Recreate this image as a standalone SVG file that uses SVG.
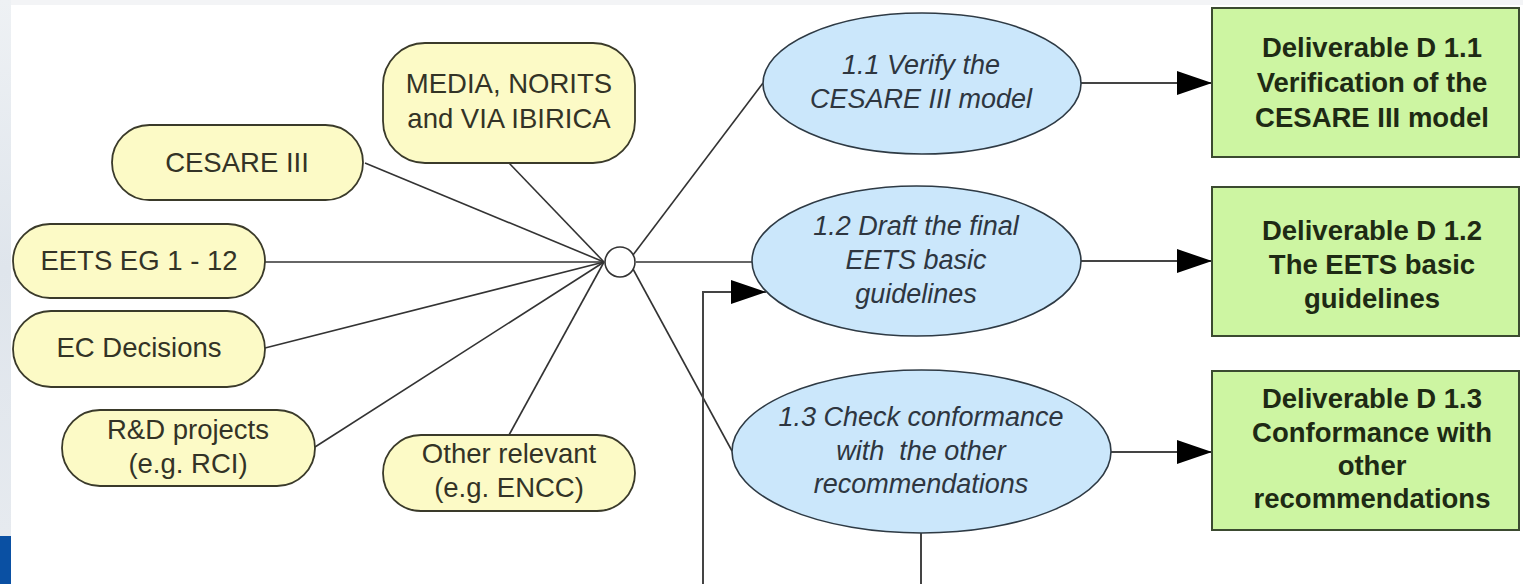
<svg xmlns="http://www.w3.org/2000/svg" width="1523" height="584" viewBox="0 0 1523 584">
<style>
.pill{fill:#fcfac6;stroke:#3a3a2a;stroke-width:1.8}
.ell{fill:#cbe7fb;stroke:#2e3a44;stroke-width:1.6}
.box{fill:#cdf5a2;stroke:#3b4a30;stroke-width:2}
.t{font-family:"Liberation Sans",Arial,sans-serif;font-size:27.5px;text-anchor:middle;fill:#333326}
.ti{font-family:"Liberation Sans",Arial,sans-serif;font-size:27px;font-style:italic;text-anchor:middle;fill:#2e3640}
.tb{font-family:"Liberation Sans",Arial,sans-serif;font-size:27.5px;font-weight:bold;text-anchor:middle;fill:#1e2a14}
.ln{fill:none;stroke:#333;stroke-width:1.6}
.ar{fill:none;stroke:#444;stroke-width:2;marker-end:url(#ah)}
</style>
<defs>
<marker id="ah" markerUnits="userSpaceOnUse" markerWidth="36" markerHeight="24" refX="35" refY="12" orient="auto">
<path d="M0,0 L35,12 L0,24 Z" fill="#000"/>
</marker>
<linearGradient id="side" x1="0" y1="0" x2="0" y2="1">
<stop offset="0" stop-color="#eef1f4"/>
<stop offset="0.5" stop-color="#dfe5ec"/>
<stop offset="1" stop-color="#e6eaef"/>
</linearGradient>
</defs>
<rect x="0" y="0" width="1523" height="584" fill="#ffffff"/>
<rect x="0" y="0" width="1523" height="5" fill="#f3f4f6"/>
<rect x="0" y="0" width="11" height="536" fill="url(#side)"/>
<rect x="0" y="536" width="11" height="48" fill="#0a50a3"/>

<g id="connectors">
<line class="ln" x1="365" y1="163" x2="604" y2="262"/>
<line class="ln" x1="265" y1="262" x2="604" y2="262"/>
<line class="ln" x1="265" y1="348" x2="604" y2="262"/>
<line class="ln" x1="315" y1="447" x2="604" y2="262"/>
<line class="ln" x1="509" y1="163" x2="604" y2="262"/>
<line class="ln" x1="509" y1="435" x2="604" y2="262"/>
<line class="ln" x1="633" y1="255" x2="763" y2="83"/>
<line class="ln" x1="636" y1="262" x2="752" y2="262"/>
<line class="ln" x1="633" y1="269" x2="732" y2="451"/>
<line class="ar" x1="1081" y1="83" x2="1212" y2="83"/>
<line class="ar" x1="1081" y1="261" x2="1212" y2="261"/>
<line class="ar" x1="1111" y1="452" x2="1212" y2="452"/>
<path class="ar" d="M921,533 V600 H703 V292 H766"/>
</g>

<g id="hub"><circle cx="620" cy="262" r="15" fill="#fff" stroke="#333" stroke-width="1.6"/></g>

<g id="n-cesare"><rect class="pill" x="112" y="125" width="251" height="75" rx="37.5"/><text class="t" x="237" y="172">CESARE III</text></g>
<g id="n-eets"><rect class="pill" x="13" y="224" width="252" height="74" rx="37"/><text class="t" x="139" y="270">EETS EG 1 - 12</text></g>
<g id="n-ec"><rect class="pill" x="13" y="311" width="252" height="76" rx="38"/><text class="t" x="139" y="357">EC Decisions</text></g>
<g id="n-rd"><rect class="pill" x="62" y="410" width="253" height="76" rx="38"/><text class="t" x="188" y="439">R&amp;D projects</text><text class="t" x="188" y="473">(e.g. RCI)</text></g>
<g id="n-media"><rect class="pill" x="383" y="43" width="252" height="120" rx="42"/><text class="t" x="509" y="93">MEDIA, NORITS</text><text class="t" x="509" y="128">and VIA IBIRICA</text></g>
<g id="n-other"><rect class="pill" x="383" y="435" width="252" height="76" rx="38"/><text class="t" x="509" y="463">Other relevant</text><text class="t" x="509" y="497">(e.g. ENCC)</text></g>

<g id="t11"><ellipse class="ell" cx="922" cy="83.5" rx="159" ry="70.5"/><text class="ti" x="921" y="74">1.1 Verify the</text><text class="ti" x="921" y="108">CESARE III model</text></g>
<g id="t12"><ellipse class="ell" cx="916.5" cy="261" rx="164.5" ry="75"/><text class="ti" x="916" y="235">1.2 Draft the final</text><text class="ti" x="916" y="269">EETS basic</text><text class="ti" x="916" y="303">guidelines</text></g>
<g id="t13"><ellipse class="ell" cx="921.5" cy="451.5" rx="189.5" ry="81.5"/><text class="ti" x="921" y="426">1.3 Check conformance</text><text class="ti" x="921" y="460" xml:space="preserve">with  the other</text><text class="ti" x="921" y="493">recommendations</text></g>

<g id="d11"><rect class="box" x="1212" y="8" width="307" height="149"/><text class="tb" x="1372" y="57">Deliverable D 1.1</text><text class="tb" x="1372" y="92">Verification of the</text><text class="tb" x="1372" y="127">CESARE III model</text></g>
<g id="d12"><rect class="box" x="1212" y="187" width="307" height="149"/><text class="tb" x="1372" y="240">Deliverable D 1.2</text><text class="tb" x="1372" y="274">The EETS basic</text><text class="tb" x="1372" y="308">guidelines</text></g>
<g id="d13"><rect class="box" x="1212" y="371" width="307" height="159"/><text class="tb" x="1372" y="408">Deliverable D 1.3</text><text class="tb" x="1372" y="442">Conformance with</text><text class="tb" x="1372" y="475">other</text><text class="tb" x="1372" y="508">recommendations</text></g>
</svg>
